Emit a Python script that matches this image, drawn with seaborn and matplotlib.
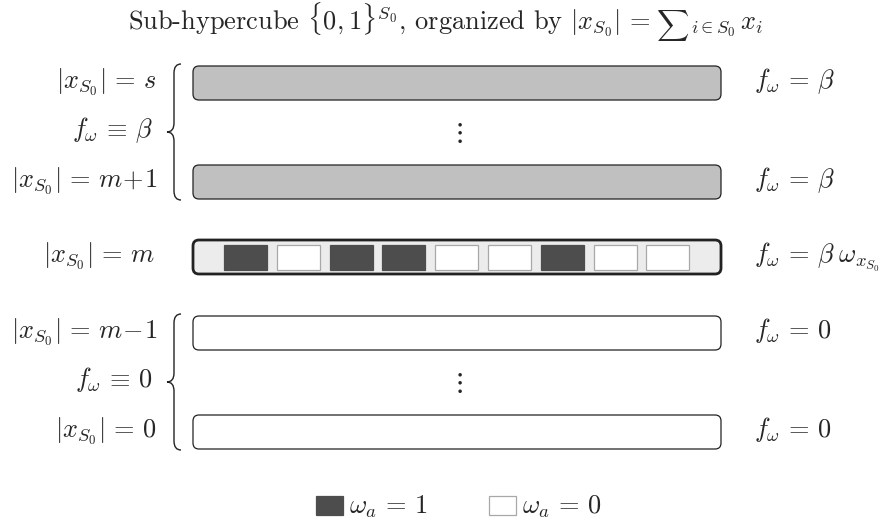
# Sub-hypercube diagram: rows organized by Hamming weight |x_S0|

import matplotlib
matplotlib.use("Agg")
import matplotlib.pyplot as plt
import seaborn as sns
from matplotlib.patches import FancyBboxPatch, Rectangle, PathPatch
from matplotlib.path import Path

sns.set_theme(style="white")
plt.rcParams['font.family'] = ['cmr10', 'DejaVu Serif']
plt.rcParams['mathtext.fontset'] = 'cm'
plt.rcParams['axes.formatter.use_mathtext'] = True

# Data
EQ = r'\,=\,'
title_parts = [r'Sub-hypercube $\{0,1\}^{S_0}$, organized by $|x_{S_0}|' + EQ + r'$',
               r'$\sum$',
               r'${}_{i\in S_0}\,x_i$']
upper_rows = [r'$|x_{S_0}|' + EQ + 's$', r'$|x_{S_0}|' + EQ + r'm\!+\!1$']
upper_brace = r'$f_\omega \,\equiv\, \beta$'
upper_right = [r'$f_\omega' + EQ + r'\beta$', r'$f_\omega' + EQ + r'\beta$']
middle_row = r'$|x_{S_0}|' + EQ + 'm$'
middle_right = r'$f_\omega' + EQ + r'\beta\;\omega_{x_{S_0}}$'
lower_rows = [r'$|x_{S_0}|' + EQ + r'm\!-\!1$', r'$|x_{S_0}|' + EQ + '0$']
lower_brace = r'$f_\omega \,\equiv\, 0$'
lower_right = [r'$f_\omega' + EQ + '0$', r'$f_\omega' + EQ + '0$']
omega = [1, 0, 1, 1, 0, 0, 1, 0, 0]
legend_labels = [r'$\omega_a' + EQ + '1$', r'$\omega_a' + EQ + '0$']

# Colours
dark = '#4d4d4d'
grey_fill = '#c0c0c0'
light_fill = '#ececec'
cell_edge = '#a8a8a8'
line = '#222222'

fs = 19

fig = plt.figure(figsize=(8.91, 5.19), dpi=100)
ax = fig.add_axes([0, 0, 1, 1])
ax.set_xlim(0, 891)
ax.set_ylim(519, 0)
ax.axis('off')

bar_x0, bar_x1 = 193, 721
bar_h = 34
label_x = 157
right_x = 754


def brace(y0, y1, xe=181, xs=174, xt=167, r=9):
    ym = (y0 + y1) / 2
    verts = [(xe, y0), (xs, y0), (xs, y0 + r),
             (xs, ym - r), (xs, ym), (xt, ym),
             (xs, ym), (xs, ym + r),
             (xs, y1 - r), (xs, y1), (xe, y1)]
    codes = [Path.MOVETO, Path.CURVE3, Path.CURVE3,
             Path.LINETO, Path.CURVE3, Path.CURVE3,
             Path.CURVE3, Path.CURVE3,
             Path.LINETO, Path.CURVE3, Path.CURVE3]
    ax.add_patch(PathPatch(Path(verts, codes), fill=False, lw=1.0, color=line))


def row_bar(yc, face, lw=0.9):
    ax.add_patch(FancyBboxPatch((bar_x0, yc - bar_h / 2), bar_x1 - bar_x0, bar_h,
                                boxstyle='round,pad=0,rounding_size=6',
                                fc=face, ec=line, lw=lw))


def group(rows, right, brace_label, y_top, y_bot, face):
    for lab, rlab, yc in zip(rows, right, [y_top, y_bot]):
        row_bar(yc, face)
        ax.text(label_x, yc + 5, lab, ha='right', va='baseline', fontsize=fs)
        ax.text(right_x, yc + 5, rlab, ha='left', va='baseline', fontsize=fs)
    ym = (y_top + y_bot) / 2
    ax.text(label_x - 4, ym + 5, brace_label, ha='right', va='baseline', fontsize=fs)
    ax.text((bar_x0 + bar_x1) / 2, ym, r'$\vdots$', ha='center', va='center', fontsize=fs * 1.05)
    brace(y_top - 19, y_bot + 18)


# Title, built from pieces so the sum sign stays at text size
renderer = fig.canvas.get_renderer()
sizes = [fs, fs * 0.85, fs]
gaps = [6, 0, 0]
pieces = [ax.text(0, 29, p, ha='left', va='baseline', fontsize=s)
          for p, s in zip(title_parts, sizes)]
widths = [t.get_window_extent(renderer).width for t in pieces]
x = 445.5 - (sum(widths) + sum(gaps)) / 2
for t, w, g in zip(pieces, widths, gaps):
    t.set_x(x)
    x += w + g
pieces[1].set_y(33)

# Upper group (f = beta) and lower group (f = 0)
group(upper_rows, upper_right, upper_brace, 83, 182, grey_fill)
group(lower_rows, lower_right, lower_brace, 333, 432, 'white')

# Middle row with the omega cells
ym = 257
row_bar(ym, light_fill, lw=2.0)
ax.text(label_x - 2, ym + 5, middle_row, ha='right', va='baseline', fontsize=fs)
ax.text(right_x, ym + 5, middle_right, ha='left', va='baseline', fontsize=fs)
cell_w, cell_h, pitch, cx0 = 43, 25, 52.8, 224
for i, w in enumerate(omega):
    ax.add_patch(Rectangle((cx0 + i * pitch, ym - cell_h / 2), cell_w, cell_h,
                           fc=dark if w else 'white', ec=dark if w else cell_edge, lw=0.9))

# Legend
leg_y = 505
for (sx, tx), lab, w in zip([(316, 349), (489, 522)], legend_labels, [1, 0]):
    ax.add_patch(Rectangle((sx, leg_y - 9.5), 27, 19,
                           fc=dark if w else 'white', ec=dark if w else cell_edge, lw=0.9))
    ax.text(tx, leg_y + 9, lab, ha='left', va='baseline', fontsize=fs)

fig.savefig('out.png', dpi=100)
